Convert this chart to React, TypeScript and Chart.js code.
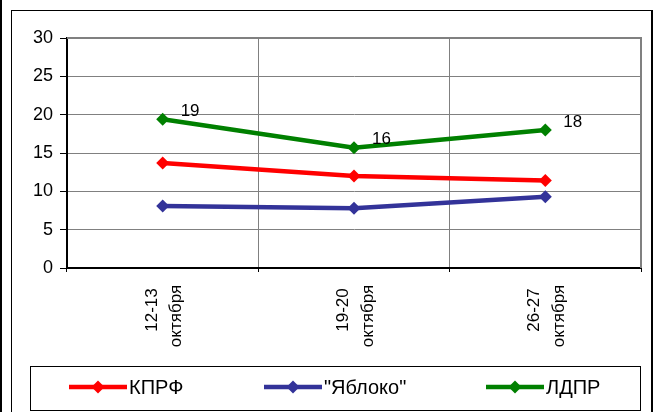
import React, { useEffect, useRef } from 'react';
import { Chart, registerables } from 'chart.js';

Chart.register(...registerables);

// ---- data ----
const categories: string[][] = [
  ['12-13', 'октября'],
  ['19-20', 'октября'],
  ['26-27', 'октября'],
];
const seriesNames = ['КПРФ', '"Яблоко"', 'ЛДПР'];
const kprf = [13.7, 12.0, 11.4];
const yabloko = [8.1, 7.8, 9.3];
const ldpr = [19.4, 15.7, 18.0];
const ldprLabels = ['19', '16', '18'];
const seriesColors = ['#FF0000', '#333399', '#008000'];
const yMin = 0;
const yMax = 30;
const yStep = 5;

const FONT = '"Liberation Sans", Arial, sans-serif';

export default function App() {
  const ref = useRef<HTMLCanvasElement>(null);

  useEffect(() => {
    const canvas = ref.current!;
    const series = [kprf, yabloko, ldpr];

    const plugin = {
      id: 'custom',
      beforeDraw(chart: any) {
        const ctx = chart.ctx;
        ctx.save();
        ctx.fillStyle = '#fff';
        ctx.fillRect(0, 0, chart.width, chart.height);
        ctx.fillStyle = '#000';
        ctx.fillRect(0, 0, 2, chart.height);
        ctx.fillRect(11, 10, 642, 1);
        ctx.fillRect(11, 10, 1, chart.height - 10);
        ctx.fillRect(651, 10, 2, chart.height - 10);
        ctx.restore();
      },
      beforeDatasetsDraw(chart: any) {
        const ctx = chart.ctx;
        const { left, right, top, bottom } = chart.chartArea;
        ctx.save();
        ctx.strokeStyle = '#808080';
        ctx.lineWidth = 2;
        ctx.beginPath();
        ctx.moveTo(left, top);
        ctx.lineTo(right, top);
        ctx.lineTo(right, bottom);
        ctx.stroke();
        ctx.restore();
      },
      afterDatasetsDraw(chart: any) {
        const ctx = chart.ctx;
        const meta = chart.getDatasetMeta(2);
        ctx.save();
        ctx.font = `17px ${FONT}`;
        ctx.fillStyle = '#000';
        ctx.textAlign = 'left';
        ctx.textBaseline = 'middle';
        meta.data.forEach((pt: any, i: number) => {
          ctx.fillText(ldprLabels[i], pt.x + 18, pt.y - 8);
        });
        ctx.restore();
      },
      afterDraw(chart: any) {
        const ctx = chart.ctx;
        const xs = chart.scales.x;
        ctx.save();
        ctx.fillStyle = '#000';
        ctx.font = `17px ${FONT}`;
        ctx.textAlign = 'center';
        ctx.textBaseline = 'alphabetic';
        categories.forEach((lines, i) => {
          const px = xs.getPixelForValue(i);
          ctx.save();
          ctx.translate(px, 313);
          ctx.rotate(-Math.PI / 2);
          ctx.fillText(lines[0], 3, -6);
          ctx.fillText(lines[1], -3, 18.5);
          ctx.restore();
        });
        // legend box
        ctx.strokeStyle = '#000';
        ctx.lineWidth = 1;
        ctx.strokeRect(30.5, 366.5, 610, 44);
        const starts = [69, 264, 486];
        const ly = 387;
        ctx.font = `20px ${FONT}`;
        ctx.textAlign = 'left';
        ctx.textBaseline = 'middle';
        seriesNames.forEach((name, i) => {
          const x0 = starts[i];
          ctx.strokeStyle = seriesColors[i];
          ctx.fillStyle = seriesColors[i];
          ctx.lineWidth = 4.5;
          ctx.beginPath();
          ctx.moveTo(x0, ly);
          ctx.lineTo(x0 + 58, ly);
          ctx.stroke();
          const mx = x0 + 29;
          const r = 6.5;
          ctx.beginPath();
          ctx.moveTo(mx - r, ly);
          ctx.lineTo(mx, ly - r);
          ctx.lineTo(mx + r, ly);
          ctx.lineTo(mx, ly + r);
          ctx.closePath();
          ctx.fill();
          ctx.fillStyle = '#000';
          ctx.fillText(name, x0 + 60, ly + 1);
        });
        ctx.restore();
      },
    };

    const chart = new Chart(canvas, {
      type: 'line',
      data: {
        labels: categories.map((c) => c.join(' ')),
        datasets: series.map((data, i) => ({
          label: seriesNames[i],
          data,
          borderColor: seriesColors[i],
          backgroundColor: seriesColors[i],
          borderWidth: 4.5,
          pointStyle: 'rectRot',
          pointRadius: 6.5,
          pointHoverRadius: 6.5,
          pointBorderWidth: 0,
          tension: 0,
        })),
      },
      options: {
        responsive: false,
        animation: false,
        devicePixelRatio: 1,
        layout: { padding: { left: 0, top: 38, right: 15, bottom: 0 } },
        plugins: {
          legend: { display: false },
          tooltip: { enabled: false },
          title: { display: false },
        },
        scales: {
          x: {
            type: 'category',
            offset: true,
            grid: {
              offset: true,
              color: '#808080',
              lineWidth: 1,
              drawTicks: true,
              tickLength: 4,
              tickColor: '#000',
            },
            border: { display: true, color: '#000', width: 2 },
            ticks: { display: false },
            afterFit(scale: any) {
              scale.height = 144;
            },
          },
          y: {
            min: yMin,
            max: yMax,
            ticks: {
              stepSize: yStep,
              color: '#000',
              font: { family: FONT, size: 18 },
              padding: 7,
            },
            grid: {
              color: '#808080',
              lineWidth: 1,
              tickLength: 7,
              tickColor: '#000',
            },
            border: { display: true, color: '#000', width: 2 },
            afterFit(scale: any) {
              scale.width = 67;
            },
          },
        },
      },
      plugins: [plugin],
    });

    return () => chart.destroy();
  }, []);

  return (
    <div style={{ position: 'fixed', left: 0, top: 0, width: 656, height: 412, background: '#fff' }}>
      <canvas ref={ref} width={656} height={412} style={{ display: 'block' }} />
    </div>
  );
}
